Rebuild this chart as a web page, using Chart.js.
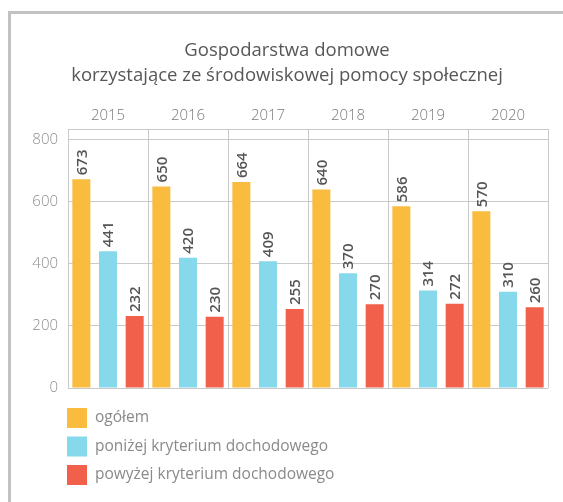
<!DOCTYPE html>
<html>
<head>
<meta charset="utf-8">
<script src="https://cdn.jsdelivr.net/npm/chart.js@4/dist/chart.umd.min.js"></script>
<style>
  html, body { margin: 0; padding: 0; background: #fff; }
  #frame { position: absolute; left: 8px; top: 11px; width: 560px; height: 500px;
           border-left: 3px solid #c2c2c2; border-top: 3px solid #c2c2c2; }
  #c { position: absolute; left: 0; top: 0; }
</style>
</head>
<body>
<div id="frame"></div>
<canvas id="c" width="563" height="502"></canvas>
<script>
const titleLines = ['Gospodarstwa domowe', 'korzystające ze środowiskowej pomocy społecznej'];
const years = ['2015', '2016', '2017', '2018', '2019', '2020'];
const seriesNames = ['ogółem', 'poniżej kryterium dochodowego', 'powyżej kryterium dochodowego'];
const ogolem = [673, 650, 664, 640, 586, 570];
const ponizej = [441, 420, 409, 370, 314, 310];
const powyzej = [232, 230, 255, 270, 272, 260];
const yTicks = [0, 200, 400, 600, 800];

const colors = ['#F9BC3F', '#86D9EA', '#F0604B'];
const FONT = "'Open Sans', 'Noto Sans', sans-serif";

const valueLabels = {
  id: 'valueLabels',
  afterDatasetsDraw(chart) {
    const ctx = chart.ctx;
    ctx.save();
    ctx.fillStyle = '#555';
    ctx.font = "600 15px " + FONT;
    ctx.textAlign = 'left';
    ctx.textBaseline = 'middle';
    chart.data.datasets.forEach((ds, di) => {
      const meta = chart.getDatasetMeta(di);
      meta.data.forEach((el, i) => {
        ctx.save();
        ctx.translate(el.x, el.y - 4);
        ctx.rotate(-Math.PI / 2);
        ctx.fillText(String(ds.data[i]), 0, 1);
        ctx.restore();
      });
    });
    ctx.restore();
  }
};

const customLegend = {
  id: 'customLegend',
  afterDraw(chart) {
    const ctx = chart.ctx;
    const a = chart.chartArea;
    ctx.save();
    ctx.font = "400 15.5px " + FONT;
    ctx.textAlign = 'left';
    ctx.textBaseline = 'middle';
    chart.data.datasets.forEach((ds, i) => {
      const cy = a.bottom + 30 + i * 28.5;
      ctx.fillStyle = ds.backgroundColor;
      ctx.fillRect(a.left - 1, cy - 10, 20, 20);
      ctx.fillStyle = '#8a8a8a';
      ctx.fillText(ds.label, a.left + 27, cy);
    });
    ctx.restore();
  }
};

const seriesValues = [ogolem, ponizej, powyzej];

new Chart(document.getElementById('c'), {
  type: 'bar',
  data: {
    labels: years,
    datasets: seriesNames.map((name, i) => ({
      label: name,
      data: seriesValues[i],
      backgroundColor: colors[i],
      borderWidth: 0,
      categoryPercentage: 1.0,
      barPercentage: 0.675
    }))
  },
  options: {
    responsive: false,
    animation: false,
    devicePixelRatio: 1,
    layout: { padding: { left: 26, right: 15, top: 10, bottom: 114 } },
    plugins: {
      legend: { display: false },
      tooltip: { enabled: false },
      title: {
        display: true,
        text: titleLines,
        color: '#575757',
        font: { family: FONT, size: 18.5, weight: '500', lineHeight: 25 / 18.5 },
        padding: { top: 28.5, bottom: 0 }
      }
    },
    scales: {
      x: {
        position: 'top',
        offset: true,
        grid: { display: true, offset: true, color: '#c9c9c9', lineWidth: 1, drawTicks: false },
        border: { display: true, color: '#c9c9c9' },
        ticks: { color: '#7a7a7a', font: { family: FONT, size: 15, weight: '300' }, padding: 4 },
        afterFit(scale) { scale.height = 40.5; }
      },
      y: {
        min: 0,
        max: 835,
        afterBuildTicks(scale) { scale.ticks = yTicks.map(v => ({ value: v })); },
        grid: { color: '#c9c9c9', lineWidth: 1, drawTicks: false },
        border: { display: true, color: '#c9c9c9' },
        ticks: { color: '#8e8e8e', font: { family: FONT, size: 15, weight: '300' }, padding: 10 },
        afterFit(scale) { scale.width = 42; }
      }
    }
  },
  plugins: [valueLabels, customLegend]
});
</script>
</body>
</html>
